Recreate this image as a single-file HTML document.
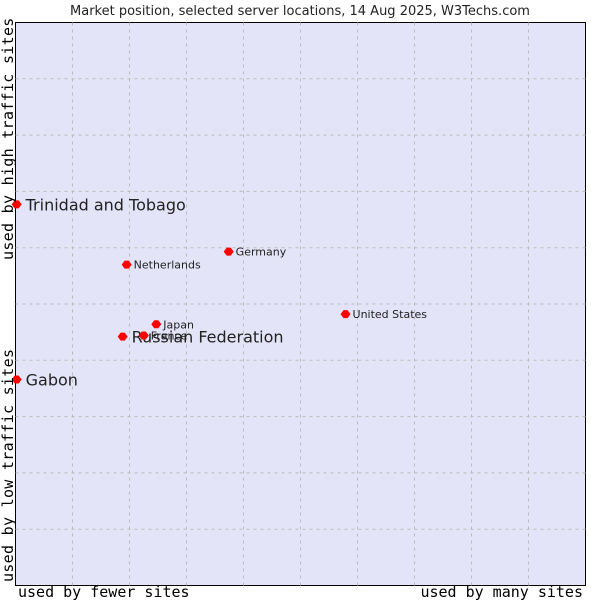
<!DOCTYPE html>
<html><head><meta charset="utf-8"><style>
body{margin:0;background:#fff;}
svg text{font-family:"DejaVu Sans","Liberation Sans",sans-serif;fill:#222;}
.mono{font-family:"DejaVu Sans Mono","Liberation Mono",monospace !important;fill:#000;}
</style></head><body>
<svg id="chart" width="600" height="600" xmlns="http://www.w3.org/2000/svg">
<text x="300" y="15" text-anchor="middle" font-size="13">Market position, selected server locations, 14 Aug 2025, W3Techs.com</text>
<rect x="15.5" y="22.5" width="570" height="563" fill="#e4e4f8" stroke="#000"/>
<g id="grid"></g>
<g id="points"></g>
<text class="mono" x="18" y="597" font-size="15">used by fewer sites</text>
<text class="mono" x="583" y="597" font-size="15" text-anchor="end">used by many sites</text>
<text class="mono" transform="translate(13,260) rotate(-90)" font-size="15" letter-spacing="0.3">used by high traffic sites</text>
<text class="mono" transform="translate(13,582) rotate(-90)" font-size="15" letter-spacing="0.3">used by low traffic sites</text>
</svg>
<script>
const names=["Trinidad and Tobago","Gabon","Russian Federation","France","Japan","Netherlands","Germany","United States"];
const xVals=[0.2,0.2,18.8,22.5,24.7,19.5,37.4,57.9];
const yVals=[67.7,36.6,44.2,44.4,46.4,57.0,59.3,48.2];
const big=[true,true,true,false,false,false,false,false];
const L=15.5,T=22.5,W=570,H=563;
const sx=v=>L+v/100*W, sy=v=>T+H-v/100*H;
const NS="http://www.w3.org/2000/svg";
const grid=document.getElementById('grid'), pts=document.getElementById('points');
for(let i=1;i<10;i++){
 let a=document.createElementNS(NS,'line');
 a.setAttribute('x1',sx(i*10));a.setAttribute('x2',sx(i*10));a.setAttribute('y1',T);a.setAttribute('y2',T+H);
 a.setAttribute('stroke','#bbb');a.setAttribute('stroke-dasharray','3,4');
 
 
 grid.appendChild(a);
 let b=document.createElementNS(NS,'line');
 b.setAttribute('y1',sy(i*10));b.setAttribute('y2',sy(i*10));b.setAttribute('x1',L);b.setAttribute('x2',L+W);
 b.setAttribute('stroke','#bbb');b.setAttribute('stroke-dasharray','3,4');
 
 
 grid.appendChild(b);
}
names.forEach((n,i)=>{
 const x=sx(xVals[i]),y=sy(yVals[i]);
 const d=document.createElementNS(NS,'path');
 d.setAttribute('d',`M${x-5},${y} L${x-2},${y-4} L${x+2},${y-4} L${x+5},${y} L${x+2},${y+4} L${x-2},${y+4} Z`);
 d.setAttribute('fill','#f00');
 
 
 pts.appendChild(d);
 const t=document.createElementNS(NS,'text');
 t.setAttribute('x',x+(big[i]?9:7));t.setAttribute('y',y+(big[i]?6:4));
 t.setAttribute('font-size',big[i]?16:11);
 t.textContent=n;
 
 
 pts.appendChild(t);
});
</script>
</body></html>
